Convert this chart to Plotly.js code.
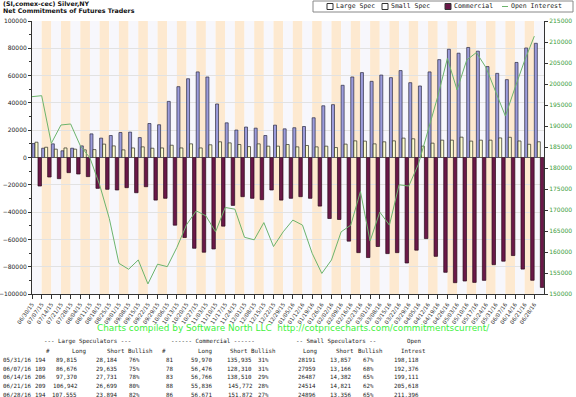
<!DOCTYPE html>
<html><head><meta charset="utf-8">
<script src="https://cdn.plot.ly/plotly-3.0.1.min.js"></script>
<style>html,body{margin:0;padding:0;background:#fff}#chart{width:576px;height:397px}</style>
</head><body><div id="chart"></div>
<script>
const dates = ['06/30/15','07/07/15','07/14/15','07/21/15','07/28/15','08/04/15','08/11/15','08/18/15','08/25/15','09/01/15','09/08/15','09/15/15','09/22/15','09/29/15','10/06/15','10/13/15','10/20/15','10/27/15','11/03/15','11/10/15','11/17/15','11/24/15','12/01/15','12/08/15','12/15/15','12/22/15','12/29/15','01/05/16','01/12/16','01/19/16','01/26/16','02/02/16','02/09/16','02/16/16','02/23/16','03/01/16','03/08/16','03/15/16','03/22/16','03/29/16','04/05/16','04/12/16','04/19/16','04/26/16','05/03/16','05/10/16','05/17/16','05/24/16','05/31/16','06/07/16','06/14/16','06/21/16','06/28/16'];
const largeSpec = [10200,6800,10000,4900,6800,8500,17300,14200,16100,18300,18600,14600,24900,24000,41100,51900,57700,62700,59000,39200,25400,20100,22300,21500,16100,23700,21000,21800,22700,29100,37900,38700,52900,59000,62200,55800,60400,58500,63700,54800,52400,62700,71700,79300,76400,80600,77900,66600,61631,57041,69639,80243,83661];
const smallSpec = [11200,7500,6100,7000,6100,5600,5800,9800,8500,5600,7000,7800,6800,7000,9000,7000,10000,7000,9300,11500,10700,9500,8000,10000,8300,8300,9500,7800,8800,7800,8300,7300,9800,12200,12000,10000,11500,12200,14200,13700,8300,10500,12700,12700,14900,12000,12700,12700,14334,14793,12105,9693,11540];
const commercial = [-20900,-14300,-15500,-11100,-12100,-14000,-22600,-23300,-23800,-22100,-25800,-21400,-31200,-29900,-49600,-58600,-66500,-69400,-67000,-50300,-35100,-28700,-29900,-30900,-23800,-31200,-29900,-28700,-29900,-35600,-44700,-45400,-61300,-69700,-73300,-65200,-70400,-69700,-77300,-67900,-59400,-72400,-84100,-91700,-90500,-91500,-90000,-78500,-75965,-71834,-81744,-89936,-95201];
const openInterest = [196980,197220,185880,190240,190480,185310,182400,176000,168000,157300,155900,158100,152400,157100,156500,161100,166500,169800,168600,164800,170600,170200,163500,162900,167000,161300,164800,167600,166400,159700,154900,158100,164800,166400,174400,162600,169500,166400,176000,175700,180900,188700,197000,206100,198600,205700,207500,203900,198118,192376,199111,205618,211396];

// summary table
const tDates = ['05/31/16','06/07/16','06/14/16','06/21/16','06/28/16'];
const lsNum = ['194','189','206','209','194'];
const lsLong = ['89,815','86,676','97,370','106,942','107,555'];
const lsShort = ['28,184','29,635','27,731','26,699','23,894'];
const lsBull = ['76%','75%','78%','80%','82%'];
const cmNum = ['81','78','83','88','86'];
const cmLong = ['59,970','56,476','56,766','55,836','56,671'];
const cmShort = ['135,935','128,310','138,510','145,772','151,872'];
const cmBull = ['31%','31%','29%','28%','27%'];
const ssLong = ['28191','27959','26487','24514','24896'];
const ssShort = ['13,857','13,166','14,382','14,821','13,356'];
const ssBull = ['67%','68%','65%','62%','65%'];
const oiTable = ['198,118','192,376','199,111','205,618','211,396'];

const W = 576, H = 397, ML = 32, MR = 32, MT = 21, MB = 103;
const px = x => (x - ML) / (W - ML - MR);
const py = y => (H - MB - y) / (H - MT - MB);
const idx = dates.map((d, i) => i);

const traces = [
  {type:'bar', name:'Large Spec', x:idx, y:largeSpec, offset:0.0, width:0.31,
   marker:{color:'#9c9cdc', line:{color:'#2a2a40', width:0.7}}, showlegend:false, hoverinfo:'skip'},
  {type:'bar', name:'Small Spec', x:idx, y:smallSpec, offset:0.31, width:0.31,
   marker:{color:'#fdfdd0', line:{color:'#2a2a20', width:0.7}}, showlegend:false, hoverinfo:'skip'},
  {type:'bar', name:'Commercial', x:idx, y:commercial, offset:0.62, width:0.36,
   marker:{color:'#6a1848', line:{color:'#2a0a1a', width:0.7}}, showlegend:false, hoverinfo:'skip'},
  {type:'scatter', mode:'lines', name:'Open Interest', x:idx, y:openInterest, yaxis:'y2',
   line:{color:'#6cb46c', width:1}, showlegend:false, hoverinfo:'skip'}
];

const shapes = [];
dates.forEach((d, i) => {
  shapes.push({type:'rect', xref:'x', yref:'paper', x0:i, x1:i+1, y0:0, y1:1, layer:'below',
    line:{width:0}, fillcolor: i % 2 ? '#fde9d0' : '#f7f7fc'});
});
// legend box & symbols
shapes.push({type:'rect', xref:'paper', yref:'paper', x0:px(313), x1:px(573), y0:py(12), y1:py(1),
  line:{color:'#888', width:1}, fillcolor:'#ffffff'});
const legendItems = [
  {sx:330, text:'Large Spec', kind:'box', fill:'#ffffff'},
  {sx:385, text:'Small Spec', kind:'box', fill:'#ffffff'},
  {sx:448, text:'Commercial', kind:'box', fill:'#6a1848'},
  {sx:505, text:'Open Interest', kind:'line'}
];
const annotations = [];
legendItems.forEach(it => {
  if (it.kind === 'box') {
    shapes.push({type:'rect', xref:'paper', yref:'paper', x0:px(it.sx-3), x1:px(it.sx+3), y0:py(9.5), y1:py(3.5),
      line:{color:'#333', width:1}, fillcolor:it.fill});
  } else {
    shapes.push({type:'line', xref:'paper', yref:'paper', x0:px(it.sx-3), x1:px(it.sx+3), y0:py(6.5), y1:py(6.5),
      line:{color:'#6cb46c', width:1}});
  }
  annotations.push({xref:'paper', yref:'paper', x:px(it.sx+5), y:py(6.5), xanchor:'left', yanchor:'middle',
    text:it.text, showarrow:false, borderpad:0, font:{family:'DejaVu Sans Mono', size:6.5, color:'#222'}});
});

// titles
annotations.push({xref:'paper', yref:'paper', x:px(2), y:py(3.5), xanchor:'left', yanchor:'middle', showarrow:false, borderpad:0,
  text:'<b>(SI,comex-cec) Silver,NY</b>', font:{family:'DejaVu Sans', size:6.3, color:'#111'}});
annotations.push({xref:'paper', yref:'paper', x:px(2), y:py(10.8), xanchor:'left', yanchor:'middle', showarrow:false, borderpad:0,
  text:'<b>Net Commitments of Futures Traders</b>', font:{family:'DejaVu Sans', size:6.3, color:'#111'}});
// footer
annotations.push({xref:'paper', yref:'paper', x:px(95), y:py(328), xanchor:'left', yanchor:'middle', showarrow:false,
  text:'Charts compiled by Software North LLC  http://cotpricecharts.com/commitmentscurrent/',
  font:{family:'DejaVu Sans', size:8.9, color:'#3ef03e'}});

// table
const tf = {family:'DejaVu Sans Mono', size:5.8, color:'#222'};
function cell(x, y, text, anchor) {
  annotations.push({xref:'paper', yref:'paper', x:px(x), y:py(y), xanchor:anchor, yanchor:'middle',
    showarrow:false, borderpad:0, text:text, font:tf});
}
const h1 = 341, h2 = 351;
cell(43, h1, '--- Large Speculators ---', 'left');
cell(170, h1, '------ Commercial ------', 'left');
cell(295, h1, '-- Small Speculators --', 'left');
cell(422, h1, 'Open', 'right');
cell(48, h2, '#', 'center'); cell(71, h2, 'Long', 'left'); cell(106, h2, 'Short', 'left'); cell(127, h2, 'Bullish', 'left');
cell(164, h2, '#', 'center'); cell(197, h2, 'Long', 'left'); cell(229, h2, 'Short', 'left'); cell(250, h2, 'Bullish', 'left');
cell(302, h2, 'Long', 'left'); cell(335, h2, 'Short', 'left'); cell(357, h2, 'Bullish', 'left'); cell(400, h2, 'Intrest', 'left');
tDates.forEach((d, r) => {
  const y = 360 + r * 8.65;
  cell(2, y, d, 'left');
  cell(46.5, y, lsNum[r], 'right');
  cell(78, y, lsLong[r], 'right');
  cell(118, y, lsShort[r], 'right');
  cell(128, y, lsBull[r], 'left');
  cell(165, y, cmNum[r], 'left');
  cell(213, y, cmLong[r], 'right');
  cell(253, y, cmShort[r], 'right');
  cell(257, y, cmBull[r], 'left');
  cell(317, y, ssLong[r], 'right');
  cell(352, y, ssShort[r], 'right');
  cell(362, y, ssBull[r], 'left');
  cell(420, y, oiTable[r], 'right');
});

const layout = {
  width:W, height:H, margin:{l:ML, r:MR, t:MT, b:MB, pad:0},
  paper_bgcolor:'#ffffff', plot_bgcolor:'rgba(0,0,0,0)',
  barmode:'overlay', showlegend:false,
  xaxis:{type:'linear', range:[0, dates.length], tickmode:'array', tickvals:idx, ticktext:dates,
    tickangle:-55, tickfont:{family:'DejaVu Sans', size:5.5, color:'#333'}, ticks:'outside', ticklen:4,
    tickcolor:'#333', showline:true, linecolor:'#333', linewidth:1, showgrid:false, zeroline:false, fixedrange:true},
  yaxis:{range:[-100000, 100000], dtick:20000, tickformat:'d', showgrid:true, gridcolor:'#e2e2e2', gridwidth:1,
    zeroline:false, showline:true, linecolor:'#333', linewidth:1, ticks:'outside', ticklen:3, tickcolor:'#333',
    minor:{dtick:10000, ticks:'outside', ticklen:2, tickcolor:'#333', showgrid:false},
    tickfont:{family:'DejaVu Sans', size:6, color:'#222'}, fixedrange:true},
  yaxis2:{range:[150000, 215000], dtick:5000, tickformat:'d', overlaying:'y', side:'right', showgrid:false,
    zeroline:false, showline:true, linecolor:'#333', linewidth:1, ticks:'outside', ticklen:3, tickcolor:'#333',
    tickfont:{family:'DejaVu Sans', size:6, color:'#3c9c3c'}, fixedrange:true},
  shapes:shapes, annotations:annotations
};
Plotly.newPlot('chart', traces, layout, {staticPlot:true, displayModeBar:false});
</script></body></html>
